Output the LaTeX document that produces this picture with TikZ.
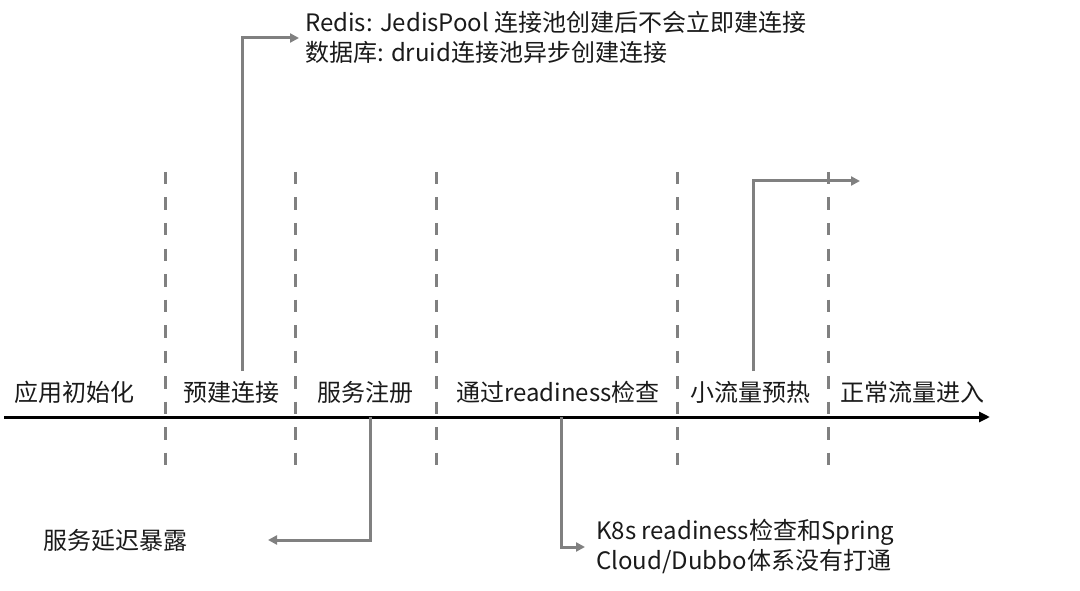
\documentclass[tikz,border=0pt]{standalone}
\usepackage{fontspec}
\setmainfont{Noto Sans CJK SC}
\usetikzlibrary{arrows.meta}
\definecolor{conn}{HTML}{808080}
\definecolor{txt}{HTML}{1A1A1A}
\tikzset{
  lbl/.style={font=\fontsize{24}{30}\selectfont, text=txt, inner sep=0pt},
  divider/.style={draw=conn, line width=3pt, dash pattern=on 12.5pt off 13pt},
  conn/.style={draw=conn, line width=3pt, -{Triangle[length=9pt,width=9pt]}},
  axis/.style={draw=black, line width=3pt, -{Triangle[length=11pt,width=10pt]}}
}
\begin{document}
\begin{tikzpicture}[x=1pt,y=-1pt]
\useasboundingbox (0,0) rectangle (1080,591);
% dividers
\foreach \x/\n in {165/d1,295/d2,436/d3,677/d4,828/d5}{
  \coordinate (\n t) at (\x,172);
  \coordinate (\n b) at (\x,466);
  \draw[divider] (\n t) -- (\n b);
}
% axis
\coordinate (a0) at (4,417);
\coordinate (a1) at (990,417);
\draw[axis] (a0) -- (a1);
% stage labels
\node[lbl] (s1) at (75,392) {应用初始化};
\node[lbl] (s2) at (231,392) {预建连接};
\node[lbl] (s3) at (365,392) {服务注册};
\node[lbl] (s4) at (558,392) {通过readiness检查};
\node[lbl] (s5) at (750,392) {小流量预热};
\node[lbl] (s6) at (912,392) {正常流量进入};
% notes
\node[lbl, anchor=west, align=left] (n1) at (305,37) {Redis: JedisPool 连接池创建后不会立即建连接\\数据库: druid连接池异步创建连接};
\node[lbl, anchor=west] (n3) at (43,540) {服务延迟暴露};
\node[lbl, anchor=west, align=left] (n4) at (596,546) {K8s readiness检查和Spring\\Cloud/Dubbo体系没有打通};
% connectors
\coordinate (c1) at (242,371);
\coordinate (c1e) at (299,38);
\draw[conn] (c1) |- (c1e);
\coordinate (c2) at (753,371);
\coordinate (c2e) at (860,181);
\draw[conn] (c2) |- (c2e);
\coordinate (c3) at (370,417);
\coordinate (c3e) at (268,540);
\draw[conn] (c3) |- (c3e);
\coordinate (c4) at (561,417);
\coordinate (c4e) at (585,547);
\draw[conn] (c4) |- (c4e);
\end{tikzpicture}
\end{document}
